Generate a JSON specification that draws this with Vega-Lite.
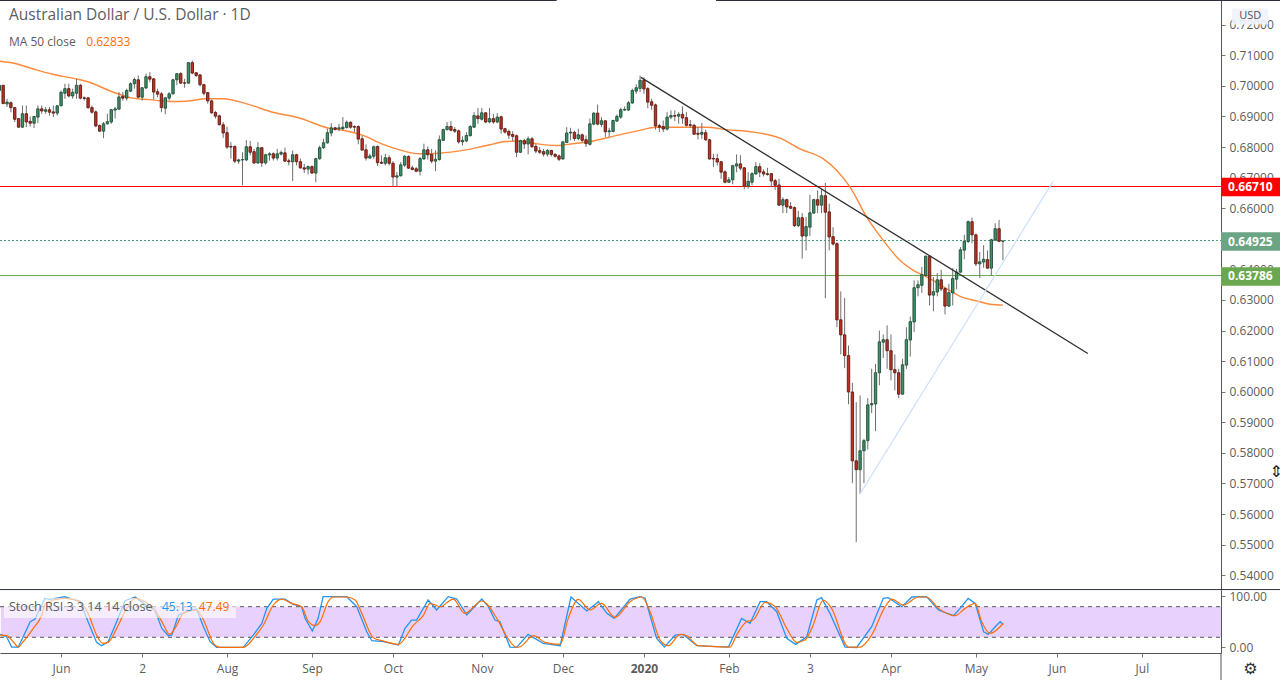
{
  "$schema": "https://vega.github.io/schema/vega-lite/v6.json",
  "padding": {"left": -4, "top": -1, "right": 0, "bottom": 0},
  "background": "white",
  "spacing": 0,
  "bounds": "flush",
  "config": {"font": "Open Sans", "view": {"stroke": null}, "concat": {"spacing": 0}, "axis": {"labelOverlap": false, "labelBound": false}},
  "datasets": {
    "candles": [
      {"bar":0,"open":0.6985,"high":0.7007,"low":0.698,"close":0.7002},
      {"bar":1,"open":0.7002,"high":0.7002,"low":0.6942,"close":0.6942},
      {"bar":2,"open":0.6941,"high":0.6958,"low":0.6931,"close":0.6947},
      {"bar":3,"open":0.6945,"high":0.6949,"low":0.6914,"close":0.6929},
      {"bar":4,"open":0.6929,"high":0.6931,"low":0.6882,"close":0.6891},
      {"bar":5,"open":0.6893,"high":0.6893,"low":0.6863,"close":0.6865},
      {"bar":6,"open":0.6865,"high":0.6936,"low":0.6863,"close":0.6909},
      {"bar":7,"open":0.6909,"high":0.6936,"low":0.6865,"close":0.6882},
      {"bar":8,"open":0.6884,"high":0.69,"low":0.6867,"close":0.6878},
      {"bar":9,"open":0.6878,"high":0.69,"low":0.6862,"close":0.69},
      {"bar":10,"open":0.6898,"high":0.6936,"low":0.6878,"close":0.6925},
      {"bar":11,"open":0.6925,"high":0.6936,"low":0.6909,"close":0.6918},
      {"bar":12,"open":0.6917,"high":0.6931,"low":0.6909,"close":0.6922},
      {"bar":13,"open":0.6922,"high":0.6931,"low":0.6903,"close":0.6914},
      {"bar":14,"open":0.6915,"high":0.6936,"low":0.6898,"close":0.6911},
      {"bar":15,"open":0.6911,"high":0.6936,"low":0.6903,"close":0.6935},
      {"bar":16,"open":0.6935,"high":0.6985,"low":0.6933,"close":0.6979},
      {"bar":17,"open":0.6976,"high":0.7007,"low":0.6958,"close":0.6991},
      {"bar":18,"open":0.6991,"high":0.7007,"low":0.6963,"close":0.6967},
      {"bar":19,"open":0.6967,"high":0.6991,"low":0.6958,"close":0.6979},
      {"bar":20,"open":0.6976,"high":0.7023,"low":0.6958,"close":0.7002},
      {"bar":21,"open":0.7002,"high":0.7007,"low":0.6956,"close":0.696},
      {"bar":22,"open":0.6961,"high":0.6966,"low":0.6952,"close":0.6959},
      {"bar":23,"open":0.6961,"high":0.6963,"low":0.6925,"close":0.6929},
      {"bar":24,"open":0.6929,"high":0.6936,"low":0.6909,"close":0.6914},
      {"bar":25,"open":0.6915,"high":0.692,"low":0.6865,"close":0.6869},
      {"bar":26,"open":0.687,"high":0.6874,"low":0.6849,"close":0.6852},
      {"bar":27,"open":0.6852,"high":0.6882,"low":0.6829,"close":0.6876},
      {"bar":28,"open":0.6876,"high":0.6909,"low":0.6874,"close":0.6883},
      {"bar":29,"open":0.6882,"high":0.6925,"low":0.6876,"close":0.6922},
      {"bar":30,"open":0.6921,"high":0.6931,"low":0.6893,"close":0.6925},
      {"bar":31,"open":0.6924,"high":0.698,"low":0.6922,"close":0.6964},
      {"bar":32,"open":0.6966,"high":0.698,"low":0.6952,"close":0.696},
      {"bar":33,"open":0.696,"high":0.6991,"low":0.6952,"close":0.6985},
      {"bar":34,"open":0.6983,"high":0.7012,"low":0.698,"close":0.7007},
      {"bar":35,"open":0.7007,"high":0.7027,"low":0.6991,"close":0.7021},
      {"bar":36,"open":0.702,"high":0.7034,"low":0.6961,"close":0.6963},
      {"bar":37,"open":0.6963,"high":0.6996,"low":0.6952,"close":0.6994},
      {"bar":38,"open":0.6993,"high":0.704,"low":0.6991,"close":0.703},
      {"bar":39,"open":0.703,"high":0.7045,"low":0.7012,"close":0.7022},
      {"bar":40,"open":0.7023,"high":0.7026,"low":0.6956,"close":0.698},
      {"bar":41,"open":0.6981,"high":0.6991,"low":0.6963,"close":0.6973},
      {"bar":42,"open":0.6974,"high":0.698,"low":0.6914,"close":0.6929},
      {"bar":43,"open":0.6927,"high":0.6963,"low":0.6907,"close":0.6961},
      {"bar":44,"open":0.696,"high":0.698,"low":0.6952,"close":0.6974},
      {"bar":45,"open":0.6974,"high":0.7023,"low":0.6972,"close":0.702},
      {"bar":46,"open":0.702,"high":0.7042,"low":0.7002,"close":0.704},
      {"bar":47,"open":0.704,"high":0.7045,"low":0.7007,"close":0.7009},
      {"bar":48,"open":0.701,"high":0.7023,"low":0.6994,"close":0.7009},
      {"bar":49,"open":0.7009,"high":0.7078,"low":0.7007,"close":0.7076},
      {"bar":50,"open":0.7076,"high":0.7083,"low":0.7038,"close":0.7042},
      {"bar":51,"open":0.7043,"high":0.7045,"low":0.7029,"close":0.7034},
      {"bar":52,"open":0.7036,"high":0.7038,"low":0.6998,"close":0.7004},
      {"bar":53,"open":0.7004,"high":0.7007,"low":0.6969,"close":0.6976},
      {"bar":54,"open":0.6978,"high":0.698,"low":0.6942,"close":0.6951},
      {"bar":55,"open":0.6951,"high":0.6955,"low":0.6909,"close":0.6912},
      {"bar":56,"open":0.6913,"high":0.6918,"low":0.6893,"close":0.6901},
      {"bar":57,"open":0.6902,"high":0.6906,"low":0.6871,"close":0.6873},
      {"bar":58,"open":0.6873,"high":0.6882,"low":0.683,"close":0.6846},
      {"bar":59,"open":0.6847,"high":0.6867,"low":0.6794,"close":0.68},
      {"bar":60,"open":0.6802,"high":0.6816,"low":0.6762,"close":0.68},
      {"bar":61,"open":0.6802,"high":0.6805,"low":0.6748,"close":0.6754},
      {"bar":62,"open":0.6754,"high":0.6762,"low":0.6745,"close":0.6758},
      {"bar":63,"open":0.6758,"high":0.6783,"low":0.6675,"close":0.6759},
      {"bar":64,"open":0.6758,"high":0.6822,"low":0.6754,"close":0.6801},
      {"bar":65,"open":0.6801,"high":0.682,"low":0.6773,"close":0.6783},
      {"bar":66,"open":0.6785,"high":0.6794,"low":0.6745,"close":0.6748},
      {"bar":67,"open":0.6748,"high":0.6816,"low":0.6745,"close":0.6798},
      {"bar":68,"open":0.6798,"high":0.68,"low":0.6735,"close":0.6748},
      {"bar":69,"open":0.6748,"high":0.6778,"low":0.6743,"close":0.6775},
      {"bar":70,"open":0.6774,"high":0.6783,"low":0.6756,"close":0.6778},
      {"bar":71,"open":0.6778,"high":0.6783,"low":0.6756,"close":0.6764},
      {"bar":72,"open":0.6764,"high":0.6794,"low":0.6756,"close":0.6778},
      {"bar":73,"open":0.6777,"high":0.6789,"low":0.6773,"close":0.6782},
      {"bar":74,"open":0.6781,"high":0.6798,"low":0.6751,"close":0.6754},
      {"bar":75,"open":0.6755,"high":0.6762,"low":0.674,"close":0.6752},
      {"bar":76,"open":0.6752,"high":0.6789,"low":0.6689,"close":0.6775},
      {"bar":77,"open":0.6775,"high":0.6778,"low":0.674,"close":0.6752},
      {"bar":78,"open":0.6752,"high":0.6762,"low":0.6729,"close":0.6732},
      {"bar":79,"open":0.6732,"high":0.6745,"low":0.6715,"close":0.6728},
      {"bar":80,"open":0.6728,"high":0.674,"low":0.6711,"close":0.6736},
      {"bar":81,"open":0.6736,"high":0.674,"low":0.6713,"close":0.6715},
      {"bar":82,"open":0.6715,"high":0.6765,"low":0.6685,"close":0.6762},
      {"bar":83,"open":0.6762,"high":0.6805,"low":0.6758,"close":0.6798},
      {"bar":84,"open":0.6798,"high":0.6827,"low":0.6794,"close":0.6814},
      {"bar":85,"open":0.6814,"high":0.686,"low":0.6811,"close":0.6847},
      {"bar":86,"open":0.6846,"high":0.6878,"low":0.6835,"close":0.6863},
      {"bar":87,"open":0.6863,"high":0.6865,"low":0.6854,"close":0.6858},
      {"bar":88,"open":0.6859,"high":0.6876,"low":0.6852,"close":0.6863},
      {"bar":89,"open":0.686,"high":0.6898,"low":0.6854,"close":0.6865},
      {"bar":90,"open":0.6864,"high":0.6887,"low":0.686,"close":0.6881},
      {"bar":91,"open":0.6881,"high":0.6884,"low":0.686,"close":0.6865},
      {"bar":92,"open":0.6867,"high":0.6871,"low":0.6849,"close":0.6865},
      {"bar":93,"open":0.6867,"high":0.6871,"low":0.6809,"close":0.6826},
      {"bar":94,"open":0.6827,"high":0.6838,"low":0.6789,"close":0.679},
      {"bar":95,"open":0.6791,"high":0.6809,"low":0.6756,"close":0.6764},
      {"bar":96,"open":0.6764,"high":0.6778,"low":0.6762,"close":0.6771},
      {"bar":97,"open":0.677,"high":0.6805,"low":0.6762,"close":0.6801},
      {"bar":98,"open":0.6802,"high":0.6805,"low":0.6738,"close":0.6749},
      {"bar":99,"open":0.675,"high":0.6773,"low":0.6745,"close":0.6747},
      {"bar":100,"open":0.6747,"high":0.6778,"low":0.674,"close":0.6765},
      {"bar":101,"open":0.6765,"high":0.6773,"low":0.674,"close":0.6747},
      {"bar":102,"open":0.6747,"high":0.6754,"low":0.6671,"close":0.6702},
      {"bar":103,"open":0.6702,"high":0.6718,"low":0.6671,"close":0.6706},
      {"bar":104,"open":0.6706,"high":0.6751,"low":0.6704,"close":0.6742},
      {"bar":105,"open":0.6741,"high":0.6773,"low":0.6735,"close":0.677},
      {"bar":106,"open":0.6769,"high":0.6773,"low":0.6729,"close":0.6731},
      {"bar":107,"open":0.6732,"high":0.674,"low":0.6724,"close":0.6727},
      {"bar":108,"open":0.6729,"high":0.6735,"low":0.6718,"close":0.6721},
      {"bar":109,"open":0.6721,"high":0.6767,"low":0.6707,"close":0.6762},
      {"bar":110,"open":0.6761,"high":0.6811,"low":0.6759,"close":0.6791},
      {"bar":111,"open":0.6791,"high":0.6802,"low":0.6759,"close":0.6775},
      {"bar":112,"open":0.6776,"high":0.6794,"low":0.6747,"close":0.6754},
      {"bar":113,"open":0.6754,"high":0.6789,"low":0.6721,"close":0.676},
      {"bar":114,"open":0.6759,"high":0.6838,"low":0.6756,"close":0.6824},
      {"bar":115,"open":0.6822,"high":0.686,"low":0.682,"close":0.6857},
      {"bar":116,"open":0.6857,"high":0.6882,"low":0.6854,"close":0.6867},
      {"bar":117,"open":0.6867,"high":0.6885,"low":0.6852,"close":0.6855},
      {"bar":118,"open":0.6857,"high":0.6865,"low":0.6846,"close":0.6852},
      {"bar":119,"open":0.6853,"high":0.6857,"low":0.6811,"close":0.6817},
      {"bar":120,"open":0.6817,"high":0.6835,"low":0.6805,"close":0.6822},
      {"bar":121,"open":0.682,"high":0.6849,"low":0.6816,"close":0.6838},
      {"bar":122,"open":0.6837,"high":0.6871,"low":0.6835,"close":0.6867},
      {"bar":123,"open":0.6865,"high":0.6914,"low":0.6863,"close":0.6903},
      {"bar":124,"open":0.6902,"high":0.6928,"low":0.6876,"close":0.6893},
      {"bar":125,"open":0.6891,"high":0.6928,"low":0.6887,"close":0.6912},
      {"bar":126,"open":0.6912,"high":0.6914,"low":0.6878,"close":0.6882},
      {"bar":127,"open":0.6882,"high":0.6928,"low":0.6878,"close":0.6893},
      {"bar":128,"open":0.6893,"high":0.6909,"low":0.6876,"close":0.6882},
      {"bar":129,"open":0.6882,"high":0.6911,"low":0.6878,"close":0.6898},
      {"bar":130,"open":0.6899,"high":0.6903,"low":0.6844,"close":0.6859},
      {"bar":131,"open":0.686,"high":0.6863,"low":0.6844,"close":0.6849},
      {"bar":132,"open":0.6851,"high":0.6857,"low":0.6827,"close":0.6839},
      {"bar":133,"open":0.6841,"high":0.6852,"low":0.682,"close":0.6835},
      {"bar":134,"open":0.6837,"high":0.6841,"low":0.6767,"close":0.6783},
      {"bar":135,"open":0.6783,"high":0.6824,"low":0.678,"close":0.6821},
      {"bar":136,"open":0.6821,"high":0.6827,"low":0.6794,"close":0.681},
      {"bar":137,"open":0.681,"high":0.6835,"low":0.6776,"close":0.6827},
      {"bar":138,"open":0.6827,"high":0.6833,"low":0.6798,"close":0.6801},
      {"bar":139,"open":0.6802,"high":0.6809,"low":0.678,"close":0.6787},
      {"bar":140,"open":0.6788,"high":0.68,"low":0.6778,"close":0.6783},
      {"bar":141,"open":0.6785,"high":0.6794,"low":0.6769,"close":0.6777},
      {"bar":142,"open":0.6777,"high":0.6794,"low":0.6769,"close":0.6789},
      {"bar":143,"open":0.6789,"high":0.6791,"low":0.6769,"close":0.6776},
      {"bar":144,"open":0.6776,"high":0.678,"low":0.6765,"close":0.677},
      {"bar":145,"open":0.6771,"high":0.6776,"low":0.6754,"close":0.676},
      {"bar":146,"open":0.6761,"high":0.682,"low":0.6759,"close":0.6817},
      {"bar":147,"open":0.6815,"high":0.6865,"low":0.6813,"close":0.6846},
      {"bar":148,"open":0.6846,"high":0.6863,"low":0.6822,"close":0.6849},
      {"bar":149,"open":0.6848,"high":0.6854,"low":0.682,"close":0.6828},
      {"bar":150,"open":0.6828,"high":0.686,"low":0.6822,"close":0.684},
      {"bar":151,"open":0.684,"high":0.6844,"low":0.6816,"close":0.6822},
      {"bar":152,"open":0.6824,"high":0.6838,"low":0.68,"close":0.6811},
      {"bar":153,"open":0.6809,"high":0.6893,"low":0.6805,"close":0.6876},
      {"bar":154,"open":0.6875,"high":0.6914,"low":0.6871,"close":0.6911},
      {"bar":155,"open":0.6911,"high":0.6939,"low":0.6871,"close":0.6875},
      {"bar":156,"open":0.6874,"high":0.6898,"low":0.6865,"close":0.6886},
      {"bar":157,"open":0.6886,"high":0.6887,"low":0.6833,"close":0.685},
      {"bar":158,"open":0.685,"high":0.6863,"low":0.6833,"close":0.6853},
      {"bar":159,"open":0.6851,"high":0.6889,"low":0.6848,"close":0.6887},
      {"bar":160,"open":0.6885,"high":0.6907,"low":0.6882,"close":0.69},
      {"bar":161,"open":0.6898,"high":0.6928,"low":0.6893,"close":0.6922},
      {"bar":162,"open":0.6921,"high":0.6933,"low":0.6918,"close":0.6923},
      {"bar":163,"open":0.6921,"high":0.695,"low":0.6918,"close":0.6945},
      {"bar":164,"open":0.6944,"high":0.6991,"low":0.6942,"close":0.6985},
      {"bar":165,"open":0.6983,"high":0.7005,"low":0.6974,"close":0.6994},
      {"bar":166,"open":0.6992,"high":0.7034,"low":0.698,"close":0.7018},
      {"bar":167,"open":0.7018,"high":0.7028,"low":0.6974,"close":0.699},
      {"bar":168,"open":0.6991,"high":0.6996,"low":0.6927,"close":0.6947},
      {"bar":169,"open":0.6948,"high":0.6958,"low":0.6922,"close":0.6937},
      {"bar":170,"open":0.6938,"high":0.6942,"low":0.6857,"close":0.6869},
      {"bar":171,"open":0.687,"high":0.6876,"low":0.6849,"close":0.6865},
      {"bar":172,"open":0.6867,"high":0.6887,"low":0.6849,"close":0.6859},
      {"bar":173,"open":0.6859,"high":0.6914,"low":0.6854,"close":0.6898},
      {"bar":174,"open":0.6898,"high":0.692,"low":0.6891,"close":0.6903},
      {"bar":175,"open":0.6903,"high":0.692,"low":0.6885,"close":0.6901},
      {"bar":176,"open":0.6901,"high":0.6914,"low":0.6876,"close":0.6907},
      {"bar":177,"open":0.6907,"high":0.6933,"low":0.6876,"close":0.6895},
      {"bar":178,"open":0.6896,"high":0.6914,"low":0.6867,"close":0.6871},
      {"bar":179,"open":0.6873,"high":0.6889,"low":0.6863,"close":0.6871},
      {"bar":180,"open":0.6871,"high":0.6876,"low":0.6841,"close":0.6842},
      {"bar":181,"open":0.6845,"high":0.6865,"low":0.6825,"close":0.6842},
      {"bar":182,"open":0.6842,"high":0.6879,"low":0.6827,"close":0.6848},
      {"bar":183,"open":0.6847,"high":0.6857,"low":0.682,"close":0.6824},
      {"bar":184,"open":0.6824,"high":0.6827,"low":0.6759,"close":0.6761},
      {"bar":185,"open":0.6763,"high":0.6778,"low":0.6735,"close":0.6761},
      {"bar":186,"open":0.6762,"high":0.6778,"low":0.674,"close":0.6751},
      {"bar":187,"open":0.6752,"high":0.6754,"low":0.6696,"close":0.6718},
      {"bar":188,"open":0.6719,"high":0.6724,"low":0.6682,"close":0.6685},
      {"bar":189,"open":0.6685,"high":0.6702,"low":0.6683,"close":0.6693},
      {"bar":190,"open":0.6693,"high":0.6742,"low":0.6678,"close":0.6739},
      {"bar":191,"open":0.6738,"high":0.6776,"low":0.6718,"close":0.6745},
      {"bar":192,"open":0.6745,"high":0.6773,"low":0.6724,"close":0.6731},
      {"bar":193,"open":0.6732,"high":0.6735,"low":0.6662,"close":0.6673},
      {"bar":194,"open":0.6673,"high":0.6718,"low":0.6664,"close":0.6688},
      {"bar":195,"open":0.6685,"high":0.6718,"low":0.6675,"close":0.6713},
      {"bar":196,"open":0.6712,"high":0.6751,"low":0.6709,"close":0.6736},
      {"bar":197,"open":0.6736,"high":0.6747,"low":0.6702,"close":0.6718},
      {"bar":198,"open":0.6719,"high":0.6727,"low":0.6704,"close":0.6712},
      {"bar":199,"open":0.6713,"high":0.6732,"low":0.6707,"close":0.671},
      {"bar":200,"open":0.6713,"high":0.6715,"low":0.6669,"close":0.6689},
      {"bar":201,"open":0.669,"high":0.6696,"low":0.666,"close":0.6675},
      {"bar":202,"open":0.6676,"high":0.6696,"low":0.6608,"close":0.661},
      {"bar":203,"open":0.661,"high":0.6636,"low":0.6584,"close":0.6628},
      {"bar":204,"open":0.6628,"high":0.6631,"low":0.6584,"close":0.6604},
      {"bar":205,"open":0.6606,"high":0.662,"low":0.6598,"close":0.66},
      {"bar":206,"open":0.6602,"high":0.6606,"low":0.6538,"close":0.6543},
      {"bar":207,"open":0.6543,"high":0.6591,"low":0.6538,"close":0.6569},
      {"bar":208,"open":0.6569,"high":0.6584,"low":0.6435,"close":0.6509},
      {"bar":209,"open":0.6509,"high":0.6571,"low":0.6462,"close":0.654},
      {"bar":210,"open":0.6538,"high":0.6644,"low":0.6509,"close":0.6585},
      {"bar":211,"open":0.6584,"high":0.6631,"low":0.6582,"close":0.6628},
      {"bar":212,"open":0.6628,"high":0.6658,"low":0.6584,"close":0.661},
      {"bar":213,"open":0.661,"high":0.6664,"low":0.6584,"close":0.6641},
      {"bar":214,"open":0.6641,"high":0.6683,"low":0.6306,"close":0.6587},
      {"bar":215,"open":0.6588,"high":0.6615,"low":0.6462,"close":0.6506},
      {"bar":216,"open":0.6507,"high":0.6538,"low":0.6478,"close":0.6483},
      {"bar":217,"open":0.6484,"high":0.6489,"low":0.6211,"close":0.6235},
      {"bar":218,"open":0.6235,"high":0.6328,"low":0.6122,"close":0.6186},
      {"bar":219,"open":0.6186,"high":0.6307,"low":0.6077,"close":0.6118},
      {"bar":220,"open":0.6118,"high":0.6151,"low":0.5959,"close":0.5999},
      {"bar":221,"open":0.5999,"high":0.6029,"low":0.5701,"close":0.5774},
      {"bar":222,"open":0.5774,"high":0.5966,"low":0.5508,"close":0.5745},
      {"bar":223,"open":0.5745,"high":0.5988,"low":0.5666,"close":0.5807},
      {"bar":224,"open":0.5807,"high":0.5846,"low":0.5701,"close":0.584},
      {"bar":225,"open":0.584,"high":0.5979,"low":0.5811,"close":0.5957},
      {"bar":226,"open":0.5957,"high":0.6075,"low":0.593,"close":0.5961},
      {"bar":227,"open":0.596,"high":0.6091,"low":0.5871,"close":0.6062},
      {"bar":228,"open":0.6062,"high":0.62,"low":0.6021,"close":0.6163},
      {"bar":229,"open":0.6162,"high":0.6187,"low":0.611,"close":0.617},
      {"bar":230,"open":0.617,"high":0.6217,"low":0.6075,"close":0.6134},
      {"bar":231,"open":0.6134,"high":0.6187,"low":0.6037,"close":0.6072},
      {"bar":232,"open":0.6072,"high":0.6122,"low":0.6004,"close":0.6062},
      {"bar":233,"open":0.6062,"high":0.6075,"low":0.5979,"close":0.5992},
      {"bar":234,"open":0.5992,"high":0.6108,"low":0.5991,"close":0.6088},
      {"bar":235,"open":0.6087,"high":0.6211,"low":0.6075,"close":0.617},
      {"bar":236,"open":0.6169,"high":0.6246,"low":0.6115,"close":0.6229},
      {"bar":237,"open":0.6228,"high":0.6364,"low":0.6195,"close":0.634},
      {"bar":238,"open":0.634,"high":0.6364,"low":0.6312,"close":0.635},
      {"bar":239,"open":0.6348,"high":0.6408,"low":0.6323,"close":0.6383},
      {"bar":240,"open":0.638,"high":0.6446,"low":0.6377,"close":0.6443},
      {"bar":241,"open":0.6443,"high":0.6446,"low":0.6282,"close":0.6316},
      {"bar":242,"open":0.6316,"high":0.6375,"low":0.6263,"close":0.6327},
      {"bar":243,"open":0.6326,"high":0.6388,"low":0.6312,"close":0.6366},
      {"bar":244,"open":0.6366,"high":0.6399,"low":0.6329,"close":0.6336},
      {"bar":245,"open":0.6337,"high":0.6342,"low":0.6253,"close":0.628},
      {"bar":246,"open":0.628,"high":0.6353,"low":0.6277,"close":0.6324},
      {"bar":247,"open":0.6323,"high":0.6404,"low":0.6282,"close":0.637},
      {"bar":248,"open":0.6368,"high":0.6402,"low":0.6335,"close":0.6391},
      {"bar":249,"open":0.6391,"high":0.6473,"low":0.6389,"close":0.6464},
      {"bar":250,"open":0.6463,"high":0.6513,"low":0.6433,"close":0.6492},
      {"bar":251,"open":0.6491,"high":0.656,"low":0.6486,"close":0.6556},
      {"bar":252,"open":0.6556,"high":0.6569,"low":0.6486,"close":0.6513},
      {"bar":253,"open":0.6513,"high":0.6517,"low":0.6411,"close":0.6418},
      {"bar":254,"open":0.6418,"high":0.6457,"low":0.6372,"close":0.6425},
      {"bar":255,"open":0.6424,"high":0.6479,"low":0.6405,"close":0.6433},
      {"bar":256,"open":0.6432,"high":0.6462,"low":0.6402,"close":0.6404},
      {"bar":257,"open":0.6404,"high":0.65,"low":0.638,"close":0.6497},
      {"bar":258,"open":0.6496,"high":0.6551,"low":0.6493,"close":0.6533},
      {"bar":259,"open":0.6533,"high":0.6562,"low":0.6489,"close":0.6492},
      {"bar":260,"open":0.6492,"high":0.6495,"low":0.643,"close":0.64925}
    ],
    "ma50": [
      {"bar":0,"price":0.7081},{"bar":3.5,"price":0.7075},{"bar":8.6,"price":0.7056},{"bar":13.8,"price":0.7038},{"bar":19.9,"price":0.7023},{"bar":23.3,"price":0.7012},{"bar":29.4,"price":0.698},{"bar":34.5,"price":0.696},{"bar":38.9,"price":0.6955},{"bar":44,"price":0.6949},{"bar":48.4,"price":0.695},{"bar":53.5,"price":0.6958},{"bar":57.9,"price":0.6958},{"bar":63.9,"price":0.6942},{"bar":70.8,"price":0.6914},{"bar":77.7,"price":0.6895},{"bar":85.6,"price":0.6861},
      {"bar":89.1,"price":0.6855},{"bar":94.2,"price":0.6838},{"bar":99.4,"price":0.6809},{"bar":103.7,"price":0.6791},{"bar":108.9,"price":0.6778},{"bar":114.1,"price":0.678},{"bar":120.1,"price":0.6789},{"bar":126.2,"price":0.6805},{"bar":131.3,"price":0.6818},{"bar":134.8,"price":0.682},{"bar":139.1,"price":0.6811},{"bar":144.3,"price":0.6805},{"bar":148.6,"price":0.6811},{"bar":153.8,"price":0.682},{"bar":159,"price":0.6835},{"bar":165,"price":0.6852},
      {"bar":170.3,"price":0.6865},{"bar":177.2,"price":0.6865},{"bar":183.3,"price":0.6865},{"bar":188.4,"price":0.6857},{"bar":195.4,"price":0.6849},{"bar":202.3,"price":0.6829},{"bar":207.4,"price":0.6794},{"bar":213.4,"price":0.6762},{"bar":216.9,"price":0.6724},{"bar":220.4,"price":0.6669},{"bar":225,"price":0.6565},{"bar":229,"price":0.6495},{"bar":233.3,"price":0.643},{"bar":236.8,"price":0.6397},{"bar":241.1,"price":0.637},{"bar":245.4,"price":0.6337},{"bar":248.9,"price":0.6312},{"bar":253.2,"price":0.6297},{"bar":256.7,"price":0.6286},{"bar":260,"price":0.62833}
    ],
    "stochK": [
      {"bar":0.2,"value":25.7},{"bar":1.9,"value":21.1},{"bar":3.2,"value":0.9},{"bar":4.9,"value":0.9},{"bar":6.2,"value":21.1},{"bar":8,"value":50.6},{"bar":9.2,"value":55.1},{"bar":11.8,"value":96.3},{"bar":13.1,"value":94.4},{"bar":17,"value":99.6},{"bar":18.7,"value":95},{"bar":20.9,"value":91.1},{"bar":23,"value":50.6},{"bar":25.2,"value":10},{"bar":26.5,"value":3.5},{"bar":28.2,"value":11.3},{"bar":30.4,"value":50.6},{"bar":32.6,"value":91.8},{"bar":35.2,"value":99},{"bar":37.7,"value":84.6},{"bar":40.3,"value":73.5},{"bar":42.1,"value":37.5},{"bar":43.8,"value":23.1},{"bar":44.7,"value":24.4},{"bar":46.4,"value":63.6},{"bar":48.5,"value":70.2},{"bar":51.1,"value":75.4},{"bar":52.9,"value":40.7},{"bar":54.6,"value":11.3},{"bar":56.3,"value":0.2},{"bar":63.2,"value":0.2},{"bar":65.8,"value":24.4},{"bar":68,"value":47.3},{"bar":69.3,"value":76.7},{"bar":71,"value":95},{"bar":74,"value":95},{"bar":76.2,"value":84.6},{"bar":78.3,"value":80},{"bar":79.2,"value":57.1},{"bar":81.1,"value":32.2},{"bar":82.6,"value":57.1},{"bar":83.9,"value":99.6},{"bar":90,"value":99.6},{"bar":92.6,"value":80},{"bar":95.2,"value":30.9},{"bar":96.5,"value":13.3},{"bar":99.5,"value":11.3},{"bar":103.4,"value":4.8},{"bar":105.1,"value":37.5},{"bar":106.8,"value":53.8},{"bar":108.1,"value":53.8},{"bar":111.1,"value":93.1},{"bar":113.3,"value":73.5},{"bar":116.3,"value":99.6},{"bar":118.5,"value":95},{"bar":121.1,"value":63.6},{"bar":125,"value":95},{"bar":126.7,"value":80},{"bar":128.4,"value":53.8},{"bar":129.7,"value":50.6},{"bar":132.3,"value":0.9},{"bar":134,"value":0.2},{"bar":137,"value":25.7},{"bar":140.9,"value":8},{"bar":145.3,"value":3.5},{"bar":148.1,"value":99},{"bar":152.2,"value":71.5},{"bar":155.2,"value":89.8},{"bar":157.4,"value":66.9},{"bar":159.3,"value":57.1},{"bar":163.4,"value":95},{"bar":166,"value":99.6},{"bar":167.3,"value":96.3},{"bar":170.3,"value":17.9},{"bar":172.3,"value":0.9},{"bar":175.1,"value":24.4},{"bar":177.2,"value":25.7},{"bar":180.7,"value":3.5},{"bar":188.9,"value":0.9},{"bar":192.3,"value":57.1},{"bar":194.5,"value":47.3},{"bar":197.1,"value":89.8},{"bar":198.8,"value":89.8},{"bar":201.4,"value":70.2},{"bar":204,"value":17.9},{"bar":206.3,"value":6.1},{"bar":209.2,"value":21.1},{"bar":211.8,"value":93.1},{"bar":213,"value":97.6},{"bar":215.2,"value":66.9},{"bar":219.1,"value":0.9},{"bar":222.1,"value":0},{"bar":226,"value":40.7},{"bar":229,"value":96.3},{"bar":230.3,"value":97.6},{"bar":233.8,"value":80},{"bar":236.4,"value":99},{"bar":240.2,"value":99.6},{"bar":243.3,"value":73.5},{"bar":247.2,"value":62.3},{"bar":248.9,"value":76.7},{"bar":251,"value":96.3},{"bar":252.8,"value":86.5},{"bar":255,"value":30.9},{"bar":256.2,"value":25.7},{"bar":258,"value":40.7},{"bar":259.3,"value":50.6},{"bar":260.1,"value":45.13}
    ],
    "stochD": [
      {"bar":0.2,"value":24.4},{"bar":1.9,"value":23.1},{"bar":3.6,"value":11.3},{"bar":4.9,"value":0.9},{"bar":6.2,"value":11.3},{"bar":8.8,"value":37.5},{"bar":11,"value":63.6},{"bar":11.8,"value":83.3},{"bar":14,"value":93.1},{"bar":17,"value":96.3},{"bar":20.9,"value":89.8},{"bar":23,"value":66.9},{"bar":25.2,"value":24.4},{"bar":26.9,"value":8},{"bar":28.2,"value":10},{"bar":30.4,"value":37.5},{"bar":33,"value":76.7},{"bar":35.2,"value":96.3},{"bar":37.7,"value":89.8},{"bar":40.3,"value":73.5},{"bar":42.1,"value":50.6},{"bar":44.2,"value":25.7},{"bar":45.5,"value":37.5},{"bar":47.7,"value":66.9},{"bar":51.1,"value":73.5},{"bar":52.9,"value":53.8},{"bar":55.5,"value":8},{"bar":57.2,"value":0.2},{"bar":63.2,"value":0.2},{"bar":66.2,"value":21.1},{"bar":68.4,"value":44},{"bar":71,"value":83.3},{"bar":73.2,"value":95},{"bar":75.7,"value":86.5},{"bar":78.3,"value":80},{"bar":80.1,"value":50.6},{"bar":81.8,"value":42.7},{"bar":83.1,"value":50.6},{"bar":85.2,"value":89.8},{"bar":86.5,"value":99},{"bar":90,"value":99},{"bar":92.2,"value":93.1},{"bar":93.9,"value":66.9},{"bar":96.9,"value":19.2},{"bar":99.5,"value":12.6},{"bar":103.4,"value":6.1},{"bar":107.3,"value":44},{"bar":109.9,"value":63.6},{"bar":111.6,"value":86.5},{"bar":114.2,"value":80},{"bar":117.6,"value":95},{"bar":120.6,"value":66.9},{"bar":125,"value":91.1},{"bar":128.9,"value":57.1},{"bar":131.5,"value":21.1},{"bar":134,"value":0.2},{"bar":134.9,"value":1.5},{"bar":138.4,"value":23.1},{"bar":141.4,"value":10},{"bar":145.3,"value":6.1},{"bar":147.4,"value":57.1},{"bar":150,"value":94.4},{"bar":153,"value":73.5},{"bar":156,"value":86.5},{"bar":159.5,"value":59.1},{"bar":163.4,"value":89.8},{"bar":166.4,"value":99},{"bar":168.6,"value":70.2},{"bar":171.2,"value":14.6},{"bar":173.3,"value":3.5},{"bar":176.4,"value":25.7},{"bar":178.1,"value":23.1},{"bar":181.1,"value":3.5},{"bar":189.3,"value":0.9},{"bar":191,"value":24.4},{"bar":193.6,"value":50.6},{"bar":195.3,"value":53.8},{"bar":198.4,"value":88.5},{"bar":201,"value":80},{"bar":204,"value":37.5},{"bar":206.6,"value":10},{"bar":208.7,"value":14.6},{"bar":210.5,"value":37.5},{"bar":213.5,"value":93.1},{"bar":215.6,"value":76.7},{"bar":220,"value":0.9},{"bar":223,"value":0.9},{"bar":226,"value":24.4},{"bar":229.5,"value":80},{"bar":231.2,"value":95},{"bar":234.2,"value":83.3},{"bar":238.1,"value":99},{"bar":240.2,"value":99},{"bar":243.3,"value":76.7},{"bar":247.6,"value":62.3},{"bar":250.2,"value":76.7},{"bar":252.8,"value":86.5},{"bar":254.5,"value":50.6},{"bar":256.7,"value":27.7},{"bar":260.1,"value":47.49}
    ]
  },
  "vconcat": [
    {
      "width": 1221,
      "height": 590,
      "layer": [
        {
          "data": {"values": [{"bar":0.18,"bar2":316.5,"price":0.64944}]},
          "mark": {"type": "rule", "strokeWidth": 1, "strokeDash": [2, 2], "stroke": "#4d9a78"},
          "encoding": {
            "x": {"field": "bar", "type": "quantitative", "axis": null, "scale": {"domain": [0.18, 316.5], "nice": false, "zero": false, "padding": 0}},
            "x2": {"field": "bar2"},
            "y": {"field": "price", "type": "quantitative", "title": null, "scale": {"domain": [0.53516, 0.72809], "nice": false, "zero": false},
              "axis": {"orient": "right", "values": [0.54,0.55,0.56,0.57,0.58,0.59,0.6,0.61,0.62,0.63,0.64,0.65,0.66,0.67,0.68,0.69,0.7,0.71,0.72], "tickCount": 19, "format": ".5f", "grid": false, "domainColor": "#555555", "tickColor": "#777777", "tickSize": 4, "labelColor": "#5d5d5d", "labelFontSize": 12, "labelPadding": 4, "labelFlush": false, "labelOverlap": false}}
          }
        },
        {
          "data": {"values": [{"bar":0.18,"bar2":316.5,"price":0.63799}]},
          "mark": {"type": "rule", "strokeWidth": 1, "stroke": "#6aa84f"},
          "encoding": {"x": {"field": "bar", "type": "quantitative"}, "x2": {"field": "bar2"}, "y": {"field": "price", "type": "quantitative"}}
        },
        {
          "data": {"values": [{"bar":0.18,"bar2":316.5,"price":0.6671}]},
          "mark": {"type": "rule", "strokeWidth": 1, "stroke": "#ff0000"},
          "encoding": {"x": {"field": "bar", "type": "quantitative"}, "x2": {"field": "bar2"}, "y": {"field": "price", "type": "quantitative"}}
        },
        {
          "data": {"name": "ma50"},
          "mark": {"type": "line", "color": "#ff8a3c", "strokeWidth": 1.4, "interpolate": "monotone"},
          "encoding": {"x": {"field": "bar", "type": "quantitative"}, "y": {"field": "price", "type": "quantitative"}}
        },
        {
          "data": {"name": "candles"},
          "mark": {"type": "rule", "color": "#6e6e6e", "strokeWidth": 1},
          "encoding": {"x": {"field": "bar", "type": "quantitative"}, "y": {"field": "low", "type": "quantitative"}, "y2": {"field": "high"}}
        },
        {
          "data": {"name": "candles"},
          "mark": {"type": "bar", "width": 2.4, "strokeWidth": 0.9, "orient": "vertical", "clip": true},
          "encoding": {
            "x": {"field": "bar", "type": "quantitative"},
            "y": {"field": "open", "type": "quantitative"},
            "y2": {"field": "close"},
            "fill": {"condition": {"test": "datum.close >= datum.open", "value": "#3f8f68"}, "value": "#bd3323"},
            "stroke": {"condition": {"test": "datum.close >= datum.open", "value": "#1e4f38"}, "value": "#5f1a12"}
          }
        },
        {
          "data": {"values": [{"bar":166.2,"price":0.7028},{"bar":282,"price":0.6125}]},
          "mark": {"type": "line", "color": "#2e2e2e", "strokeWidth": 1.3},
          "encoding": {"x": {"field": "bar", "type": "quantitative"}, "y": {"field": "price", "type": "quantitative"}}
        },
        {
          "data": {"values": [{"bar":223,"price":0.5666},{"bar":273,"price":0.6688}]},
          "mark": {"type": "line", "color": "#cfe0fa", "strokeWidth": 1.2},
          "encoding": {"x": {"field": "bar", "type": "quantitative"}, "y": {"field": "price", "type": "quantitative"}}
        },
        {
          "data": {"values": [{"bar":0.18,"bar2":331.8,"price":0.5353},{"bar":0.18,"bar2":144.4,"price":0.72793},{"bar":185.7,"bar2":331.8,"price":0.72793}]},
          "mark": {"type": "rule", "color": "#2a2e39", "strokeWidth": 1},
          "encoding": {"x": {"field": "bar", "type": "quantitative"}, "x2": {"field": "bar2"}, "y": {"field": "price", "type": "quantitative"}}
        },
        {
          "data": {"values": [
            {"bar":316.5,"bar2":331.8,"top":0.66998,"bottom":0.66392,"color":"#ff0000"},
            {"bar":316.5,"bar2":331.8,"top":0.65213,"bottom":0.64607,"color":"#6ba583"},
            {"bar":316.5,"bar2":331.8,"top":0.64074,"bottom":0.63468,"color":"#6aa84f"}
          ]},
          "mark": {"type": "rect"},
          "encoding": {
            "x": {"field": "bar", "type": "quantitative"}, "x2": {"field": "bar2"},
            "y": {"field": "top", "type": "quantitative"}, "y2": {"field": "bottom"},
            "fill": {"field": "color", "type": "nominal", "scale": null}
          }
        },
        {
          "data": {"values": [
            {"bar":324.1,"mid":0.66695,"tag":"0.66710"},
            {"bar":324.1,"mid":0.6491,"tag":"0.64925"},
            {"bar":324.1,"mid":0.63771,"tag":"0.63786"}
          ]},
          "mark": {"type": "text", "color": "white", "fontWeight": "bold", "fontSize": 12, "align": "center", "baseline": "middle"},
          "encoding": {"x": {"field": "bar", "type": "quantitative"}, "y": {"field": "mid", "type": "quantitative"}, "text": {"field": "tag"}}
        },
        {
          "data": {"values": [{"bar":319.3,"bar2":328.7,"top":0.72534,"bottom":0.7201}]},
          "mark": {"type": "rect", "color": "#f0f3fa", "opacity": 0.9},
          "encoding": {"x": {"field": "bar", "type": "quantitative"}, "x2": {"field": "bar2"}, "y": {"field": "top", "type": "quantitative"}, "y2": {"field": "bottom"}}
        },
        {
          "data": {"values": [{"bar":324.1,"price":0.72272,"label":"USD"}]},
          "mark": {"type": "text", "baseline": "middle", "align": "center", "fontSize": 11, "color": "#4c525e"},
          "encoding": {"x": {"field": "bar", "type": "quantitative"}, "y": {"field": "price", "type": "quantitative"}, "text": {"field": "label"}}
        },
        {
          "data": {"values": [{"bar":330.8,"price":0.5739,"label":"⇕"}]},
          "mark": {"type": "text", "baseline": "middle", "align": "center", "fontSize": 16, "font": "DejaVu Sans", "color": "#222222"},
          "encoding": {"x": {"field": "bar", "type": "quantitative"}, "y": {"field": "price", "type": "quantitative"}, "text": {"field": "label"}}
        },
        {
          "data": {"values": [{"bar":2.5,"price":0.72305,"label":"Australian Dollar / U.S. Dollar · 1D"}]},
          "mark": {"type": "text", "baseline": "middle", "align": "left", "fontSize": 15.5, "color": "#5d5d5d"},
          "encoding": {"x": {"field": "bar", "type": "quantitative"}, "y": {"field": "price", "type": "quantitative"}, "text": {"field": "label"}}
        },
        {
          "data": {"values": [{"bar":2.5,"price":0.7142,"label":"MA 50 close"}]},
          "mark": {"type": "text", "baseline": "middle", "align": "left", "fontSize": 12, "color": "#5d5d5d"},
          "encoding": {"x": {"field": "bar", "type": "quantitative"}, "y": {"field": "price", "type": "quantitative"}, "text": {"field": "label"}}
        },
        {
          "data": {"values": [{"bar":22.5,"price":0.7142,"label":"0.62833"}]},
          "mark": {"type": "text", "baseline": "middle", "align": "left", "fontSize": 12, "color": "#ff6d00"},
          "encoding": {"x": {"field": "bar", "type": "quantitative"}, "y": {"field": "price", "type": "quantitative"}, "text": {"field": "label"}}
        }
      ]
    },
    {
      "width": 1221,
      "height": 63,
      "layer": [
        {
          "data": {"values": [{"bar":0.4,"bar2":316.5,"upper":80,"lower":20}]},
          "mark": {"type": "rect", "color": "#e9d1fe"},
          "encoding": {
            "x": {"field": "bar", "type": "quantitative", "title": null, "scale": {"domain": [0.18, 316.5], "nice": false, "zero": false, "padding": 0},
              "axis": {"orient": "bottom", "values": [16,37,59,81,102,125,146,167,189,210,231,253,274,296], "labelExpr": "{'16':'Jun','37':'2','59':'Aug','81':'Sep','102':'Oct','125':'Nov','146':'Dec','167':'2020','189':'Feb','210':'3','231':'Apr','253':'May','274':'Jun','296':'Jul'}[''+datum.value]", "grid": false, "domainColor": "#555555", "tickColor": "#777777", "tickSize": 4, "labelColor": "#5d5d5d", "labelFontSize": 12, "labelPadding": 6, "labelOverlap": false, "labelFlush": false, "labelFontWeight": {"condition": {"test": "datum.value == 167", "value": "bold"}, "value": "normal"}}},
            "x2": {"field": "bar2"},
            "y": {"field": "upper", "type": "quantitative", "title": null, "scale": {"domain": [-10.8, 112.7], "nice": false, "zero": false},
              "axis": {"orient": "right", "values": [0, 100], "format": ".2f", "grid": false, "domainColor": "#555555", "tickColor": "#777777", "tickSize": 4, "labelColor": "#5d5d5d", "labelFontSize": 12, "labelPadding": 4, "labelFlush": false}},
            "y2": {"field": "lower"}
          }
        },
        {
          "data": {"values": [{"bar":0.18,"bar2":316.5,"value":80},{"bar":0.18,"bar2":316.5,"value":20}]},
          "mark": {"type": "rule", "color": "#555555", "strokeWidth": 1, "strokeDash": [4, 4]},
          "encoding": {"x": {"field": "bar", "type": "quantitative"}, "x2": {"field": "bar2"}, "y": {"field": "value", "type": "quantitative"}}
        },
        {
          "data": {"name": "stochK"},
          "mark": {"type": "line", "color": "#2196f3", "strokeWidth": 1.3},
          "encoding": {"x": {"field": "bar", "type": "quantitative"}, "y": {"field": "value", "type": "quantitative"}}
        },
        {
          "data": {"name": "stochD"},
          "mark": {"type": "line", "color": "#ff6d00", "strokeWidth": 1.2, "interpolate": "monotone"},
          "encoding": {"x": {"field": "bar", "type": "quantitative"}, "y": {"field": "value", "type": "quantitative"}}
        },
        {
          "data": {"values": [{"bar":1.2,"bar2":61.3,"upper":97,"lower":57.8}]},
          "mark": {"type": "rect", "color": "white", "opacity": 0.6},
          "encoding": {"x": {"field": "bar", "type": "quantitative"}, "x2": {"field": "bar2"}, "y": {"field": "upper", "type": "quantitative"}, "y2": {"field": "lower"}}
        },
        {
          "data": {"values": [{"bar":2.5,"value":79.4,"label":"Stoch RSI 3 3 14 14 close"}]},
          "mark": {"type": "text", "baseline": "middle", "align": "left", "fontSize": 12.6, "color": "#5d5d5d"},
          "encoding": {"x": {"field": "bar", "type": "quantitative"}, "y": {"field": "value", "type": "quantitative"}, "text": {"field": "label"}}
        },
        {
          "data": {"values": [{"bar":42.15,"value":79.4,"label":"45.13"}]},
          "mark": {"type": "text", "baseline": "middle", "align": "left", "fontSize": 12, "color": "#2196f3"},
          "encoding": {"x": {"field": "bar", "type": "quantitative"}, "y": {"field": "value", "type": "quantitative"}, "text": {"field": "label"}}
        },
        {
          "data": {"values": [{"bar":51.7,"value":79.4,"label":"47.49"}]},
          "mark": {"type": "text", "baseline": "middle", "align": "left", "fontSize": 12, "color": "#ff6d00"},
          "encoding": {"x": {"field": "bar", "type": "quantitative"}, "y": {"field": "value", "type": "quantitative"}, "text": {"field": "label"}}
        },
        {
          "data": {"values": [{"bar":316.5,"value":-10.8,"value2":-63.7}]},
          "mark": {"type": "rule", "color": "#555555", "strokeWidth": 1},
          "encoding": {"x": {"field": "bar", "type": "quantitative"}, "y": {"field": "value", "type": "quantitative"}, "y2": {"field": "value2"}}
        },
        {
          "data": {"values": [{"bar":324.1,"value":-42.2,"label":"⚙"}]},
          "mark": {"type": "text", "baseline": "middle", "align": "center", "fontSize": 16, "font": "DejaVu Sans", "color": "#333333"},
          "encoding": {"x": {"field": "bar", "type": "quantitative"}, "y": {"field": "value", "type": "quantitative"}, "text": {"field": "label"}}
        }
      ]
    }
  ]
}
